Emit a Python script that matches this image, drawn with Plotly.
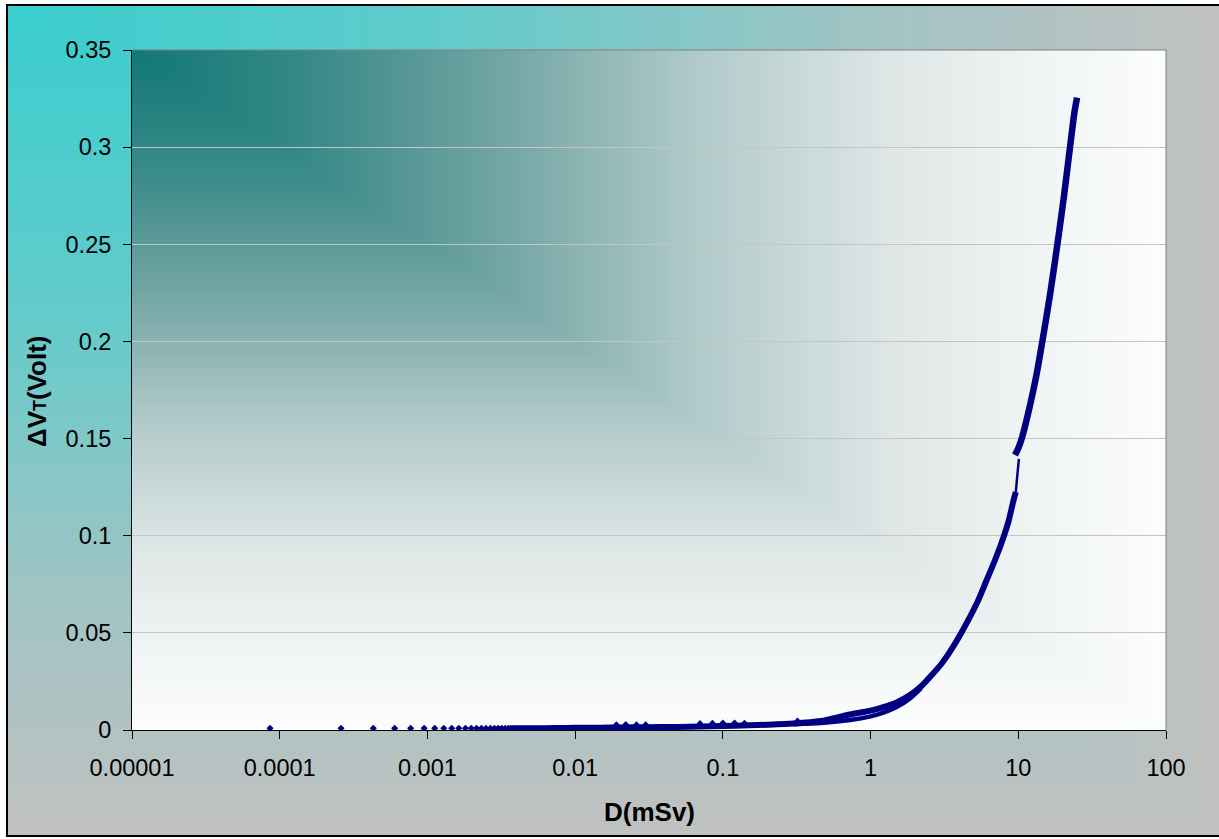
import numpy as np
import plotly.graph_objects as go

# ---- axis ticks ----
x_tick_vals = [1e-5, 1e-4, 1e-3, 1e-2, 1e-1, 1, 10, 100]
x_tick_text = ["0.00001", "0.0001", "0.001", "0.01", "0.1", "1", "10", "100"]
y_tick_vals = [0, 0.05, 0.1, 0.15, 0.2, 0.25, 0.3, 0.35]
y_tick_text = ["0", "0.05", "0.1", "0.15", "0.2", "0.25", "0.3", "0.35"]

# ---- sparse readings at very low dose (mSv, Volt) ----
low_dose = [8.6e-5, 2.6e-4, 4.3e-4, 6.0e-4, 7.7e-4, 9.5e-4, 1.12e-3, 1.29e-3,
            1.46e-3, 1.63e-3, 1.81e-3, 1.98e-3, 2.15e-3, 2.32e-3, 2.49e-3,
            2.67e-3, 2.84e-3, 3.01e-3, 3.18e-3, 3.36e-3, 3.53e-3]
low_shift = [0.0009, 0.0009, 0.0009, 0.0009, 0.0009, 0.0009, 0.0009, 0.0009,
             0.0009, 0.0009, 0.0009, 0.0009, 0.0009, 0.0009, 0.0009,
             0.0009, 0.0009, 0.0009, 0.0009, 0.0009, 0.0009]

# ---- isolated readings sitting above the dense band ----
spike_dose = [0.019, 0.022, 0.026, 0.030, 0.07, 0.085, 0.10, 0.12, 0.14, 0.32]
spike_shift = [0.0028, 0.0029, 0.0028, 0.0028, 0.0035, 0.0036, 0.0037, 0.0037, 0.0036, 0.0048]

# ---- dense record, first run (up to ~9.6 mSv) ----
run1_dose = [0.0036, 0.005, 0.0075, 0.01, 0.015, 0.02, 0.03, 0.05, 0.07, 0.1,
             0.15, 0.2, 0.3, 0.46, 0.726, 1.0, 1.22, 1.5, 1.85, 2.2, 2.66,
             3.05, 3.45, 4.1, 5.24, 6.11, 6.96, 7.92, 8.6, 9.27, 9.62]
run1_shift = [0.0009, 0.0009, 0.0010, 0.0011, 0.0012, 0.0013, 0.0014, 0.0016,
              0.0018, 0.0021, 0.0024, 0.0027, 0.0033, 0.0046, 0.0080, 0.0100,
              0.0118, 0.0142, 0.0180, 0.0225, 0.0292, 0.0345, 0.0403, 0.0498,
              0.0652, 0.0772, 0.0875, 0.0990, 0.1075, 0.1180, 0.1225]

# ---- second branch of the record between ~0.3 and ~2.2 mSv ----
branch_dose = [0.3, 0.46, 0.726, 1.0, 1.22, 1.5, 1.85, 2.2]
branch_shift = [0.0030, 0.0036, 0.0051, 0.0070, 0.0089, 0.0118, 0.0162, 0.0215]

# ---- fast step between the two runs ----
step_dose = [9.62, 9.85, 10.1]
step_shift = [0.1225, 0.1310, 0.1395]

# ---- dense record, second run (9.5 .. 25 mSv) ----
run2_dose = [9.5, 10.0, 10.6, 12.0, 13.3, 14.55, 16.4, 18.4, 20.4, 22.4,
             24.0, 25.0]
run2_shift = [0.1415, 0.1450, 0.1505, 0.1670, 0.1830, 0.2000, 0.2240, 0.2500,
              0.2750, 0.3000, 0.3180, 0.3255]

NAVY = "#000080"
W, H = 1219, 839

# pixel frame of the chart box and the plot area
box_l, box_t, box_r, box_b = 7, 5, 1219, 836
pa_l, pa_t, pa_r, pa_b = 132, 50, 1166, 730


def xdom(a, b):
    return [a / W, b / W]


def ydom(top, bottom):
    return [(H - bottom) / H, (H - top) / H]


# "from corner" gradient fields (0 at top-left corner, 1 at far edges)
n = 300
gx = np.linspace(0, 1, n)
gy = np.linspace(0, 1, n)
GX, GY = np.meshgrid(gx, gy)
corner_field = np.maximum(GX, 1 - GY)

fig = go.Figure()

# chart-area background: turquoise fading to silver
fig.add_trace(go.Heatmap(
    x=gx, y=gy, z=corner_field, zmin=0, zmax=1, zsmooth="best",
    colorscale=[[0, "rgb(58,206,206)"], [0.35, "rgb(96,203,203)"],
                [0.7, "rgb(160,196,196)"], [1, "rgb(193,193,193)"]],
    showscale=False, hoverinfo="skip", xaxis="x", yaxis="y"))

# plot-area background: dark teal fading to white
fig.add_trace(go.Heatmap(
    x=gx, y=gy, z=corner_field, zmin=0, zmax=1, zsmooth="best",
    colorscale=[[0, "rgb(18,120,118)"], [0.16, "rgb(52,136,134)"],
                [0.35, "rgb(112,164,162)"], [0.55, "rgb(178,202,202)"],
                [0.74, "rgb(224,231,231)"], [0.9, "rgb(243,246,246)"],
                [1, "rgb(252,253,253)"]],
    showscale=False, hoverinfo="skip", xaxis="x2", yaxis="y2"))

# data on the log axes
smooth_line = dict(color=NAVY, shape="spline", smoothing=0.7)
fig.add_trace(go.Scatter(
    x=run1_dose, y=run1_shift, mode="lines",
    line=dict(width=6, **smooth_line), hoverinfo="skip",
    xaxis="x3", yaxis="y3", showlegend=False))
fig.add_trace(go.Scatter(
    x=branch_dose, y=branch_shift, mode="lines",
    line=dict(width=4.5, **smooth_line), hoverinfo="skip",
    xaxis="x3", yaxis="y3", showlegend=False))
fig.add_trace(go.Scatter(
    x=step_dose, y=step_shift, mode="lines",
    line=dict(width=2.5, **smooth_line), hoverinfo="skip",
    xaxis="x3", yaxis="y3", showlegend=False))
fig.add_trace(go.Scatter(
    x=run2_dose, y=run2_shift, mode="lines",
    line=dict(width=6.5, **smooth_line), hoverinfo="skip",
    xaxis="x3", yaxis="y3", showlegend=False))
fig.add_trace(go.Scatter(
    x=low_dose, y=low_shift, mode="markers",
    marker=dict(symbol="diamond", size=5.5, color=NAVY), hoverinfo="skip",
    xaxis="x3", yaxis="y3", showlegend=False))
fig.add_trace(go.Scatter(
    x=spike_dose, y=spike_shift, mode="markers",
    marker=dict(symbol="diamond", size=5, color=NAVY), hoverinfo="skip",
    xaxis="x3", yaxis="y3", showlegend=False))

hidden = dict(visible=False, range=[0, 1], fixedrange=True, automargin=False)
tick_font = dict(family="Liberation Sans, Arial, sans-serif", size=23.5, color="black")

fig.update_layout(
    width=W, height=H,
    margin=dict(l=0, r=0, t=0, b=0, pad=0, autoexpand=False),
    paper_bgcolor="white",
    plot_bgcolor="rgba(0,0,0,0)",
    showlegend=False,
    xaxis=dict(domain=xdom(box_l, box_r), **hidden),
    yaxis=dict(domain=ydom(box_t, box_b), **hidden),
    xaxis2=dict(domain=xdom(pa_l, pa_r), **hidden),
    yaxis2=dict(domain=ydom(pa_t, pa_b), **hidden),
    xaxis3=dict(
        domain=xdom(pa_l, pa_r), type="log", range=[-5, 2],
        tickvals=x_tick_vals, ticktext=x_tick_text,
        ticks="outside", ticklen=8, tickwidth=1, tickcolor="black",
        ticklabelstandoff=9,
        showgrid=False, zeroline=False, automargin=False,
        showline=True, linecolor="black", linewidth=1,
        tickfont=tick_font, anchor="y3"),
    yaxis3=dict(
        domain=ydom(pa_t, pa_b), range=[0, 0.35],
        tickvals=y_tick_vals, ticktext=y_tick_text,
        ticks="outside", ticklen=8, tickwidth=1, tickcolor="black",
        ticklabelstandoff=7,
        showgrid=True, gridcolor="#c4c4c4", gridwidth=1, zeroline=False,
        automargin=False,
        showline=True, linecolor="black", linewidth=1,
        tickfont=tick_font, anchor="x3"),
    shapes=[
        # top and right edges of the plot area
        dict(type="line", xref="paper", yref="paper",
             x0=pa_l / W, x1=pa_r / W, y0=(H - pa_t) / H, y1=(H - pa_t) / H,
             line=dict(color="#808080", width=1)),
        dict(type="line", xref="paper", yref="paper",
             x0=pa_r / W, x1=pa_r / W, y0=(H - pa_t) / H, y1=(H - pa_b) / H,
             line=dict(color="#808080", width=1)),
        # chart border
        dict(type="rect", xref="paper", yref="paper",
             x0=box_l / W, x1=(box_r + 3) / W, y0=(H - box_b) / H, y1=(H - box_t) / H,
             line=dict(color="black", width=2)),
    ],
    annotations=[
        dict(text="<b>D(mSv)</b>", xref="paper", yref="paper",
             x=(pa_l + pa_r) / 2 / W, y=(H - 812) / H,
             xanchor="center", yanchor="middle", showarrow=False,
             font=dict(family="Liberation Sans, Arial, sans-serif", size=26, color="black")),
        dict(text="<b>ΔV<span style=\"font-size:18px\">T</span>(Volt)</b>",
             xref="paper", yref="paper", textangle=-90,
             x=37 / W, y=(H - 391) / H,
             xanchor="center", yanchor="middle", showarrow=False,
             font=dict(family="Liberation Sans, Arial, sans-serif", size=26, color="black")),
    ],
)

fig.write_html("out.html")
